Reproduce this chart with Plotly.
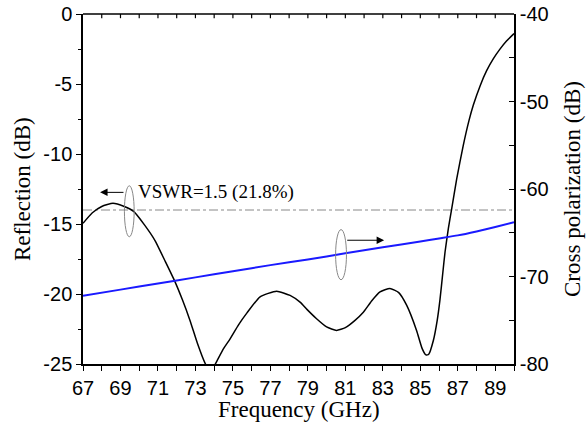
import plotly.graph_objects as go

# Reflection (left axis, dB)
freq_refl = [67.0, 67.5, 68.0, 68.6, 69.2, 69.7, 70.3, 70.85, 71.4, 71.9, 72.3, 72.7,
             73.1, 73.5, 73.8, 74.1, 74.5, 74.85, 75.3, 75.75, 76.45, 77.33, 78.05,
             78.6, 78.95, 79.45, 80.0, 80.53, 81.0, 81.5, 81.96, 82.4, 82.85, 83.38,
             83.85, 84.27, 84.8, 85.1, 85.3, 85.45, 85.7, 85.9, 86.05, 86.2, 86.32,
             86.5, 86.67, 86.94, 87.29, 87.6, 87.83, 88.2, 88.54, 88.9, 89.25, 89.6, 90.0]
reflection = [-14.95, -14.2, -13.75, -13.52, -13.75, -14.1, -15.1, -16.2, -17.7, -19.1,
              -20.4, -21.85, -23.5, -24.9, -25.6, -24.9, -23.9, -23.2, -22.2, -21.35,
              -20.2, -19.8, -20.1, -20.6, -21.1, -21.75, -22.35, -22.6, -22.4, -21.9,
              -21.3, -20.5, -19.85, -19.6, -19.9, -20.8, -22.6, -23.9, -24.35, -24.3,
              -23.3, -21.9, -20.4, -18.5, -17.0, -15.3, -13.95, -11.8, -9.4, -7.6,
              -6.5, -5.1, -4.05, -3.19, -2.51, -1.93, -1.4]

# Cross polarization (right axis, dB)
freq_xpol = [67, 69, 71, 73, 75, 77, 79, 81, 83, 85, 86, 87, 88, 89, 90]
cross_pol = [-72.2, -71.5, -70.8, -70.1, -69.4, -68.7, -68.05, -67.35, -66.65, -66.0,
             -65.65, -65.3, -64.85, -64.35, -63.8]

vswr_level = -14.0

x_ticks = list(range(67, 90, 2))
x_ticktext = [str(v) for v in x_ticks]
y1_ticks = [0, -5, -10, -15, -20, -25]
y1_ticktext = ["0", "-5", "-10", "-15", "-20", "-25"]
y2_ticks = [-40, -50, -60, -70, -80]
y2_ticktext = ["-40", "-50", "-60", "-70", "-80"]

tick_font = dict(family="Liberation Sans, Arial, sans-serif", size=20, color="black")
title_font = dict(family="Liberation Serif, Times New Roman, serif", size=23, color="black")

fig = go.Figure()
fig.add_trace(go.Scatter(x=[67, 90], y=[vswr_level, vswr_level], mode="lines",
                         line=dict(color="#888888", width=1, dash="dashdot"),
                         showlegend=False, hoverinfo="skip"))
fig.add_trace(go.Scatter(x=freq_refl, y=reflection, mode="lines",
                         line=dict(color="black", width=1.5, shape="spline", smoothing=0.5),
                         showlegend=False))
fig.add_trace(go.Scatter(x=freq_xpol, y=cross_pol, mode="lines", yaxis="y2",
                         line=dict(color="#1a1aff", width=2, shape="spline", smoothing=0.6),
                         showlegend=False))

fig.update_layout(
    width=586, height=423,
    margin=dict(l=83, r=72, t=14, b=59),
    plot_bgcolor="white", paper_bgcolor="white",
    xaxis=dict(range=[67, 90], tickmode="array", tickvals=x_ticks, ticktext=x_ticktext,
               ticks="outside", ticklen=5, tickwidth=1.3, tickcolor="black",
               minor=dict(tickmode="array", tickvals=list(range(67, 91)), ticks="outside",
                          ticklen=5, tickwidth=1.3, tickcolor="black"),
               showline=True, linecolor="black", linewidth=1.5,
               showgrid=False, zeroline=False, tickfont=tick_font, automargin=False,
               ticklabeloverflow="allow"),
    yaxis=dict(range=[-25, 0], tickmode="array", tickvals=y1_ticks, ticktext=y1_ticktext,
               ticks="outside", ticklen=5, tickwidth=1.3, tickcolor="black",
               minor=dict(tickmode="array", tickvals=[-2.5, -7.5, -12.5, -17.5, -22.5],
                          ticks="outside", ticklen=3, tickwidth=1.3, tickcolor="black"),
               showline=True, linecolor="black", linewidth=1.5, showgrid=False,
               zeroline=False, tickfont=tick_font, automargin=False,
               ticklabeloverflow="allow"),
    yaxis2=dict(range=[-80, -40], overlaying="y", side="right", anchor="x",
                tickmode="array", tickvals=y2_ticks, ticktext=y2_ticktext,
                ticks="inside", ticklen=5, tickwidth=1.3, tickcolor="black",
                minor=dict(tickmode="array", tickvals=[-45, -55, -65, -75],
                           ticks="inside", ticklen=5, tickwidth=1.3, tickcolor="black"),
                showline=True, linecolor="black", linewidth=1.5, showgrid=False,
                zeroline=False, tickfont=tick_font, automargin=False,
                ticklabeloverflow="allow"),
)

# top frame line with inward ticks (every 1 GHz)
fig.add_shape(type="line", xref="paper", yref="paper", x0=0, x1=1, y0=1, y1=1,
              line=dict(color="black", width=1.5))
for f in range(68, 90):
    fig.add_shape(type="line", xref="x", yref="paper", x0=f, x1=f, y0=1, y1=0.988,
                  line=dict(color="black", width=1.2))

# axis titles
fig.add_annotation(text="Frequency (GHz)", xref="paper", yref="paper", x=0.5, y=0,
                   xanchor="center", yanchor="middle", yshift=-45, showarrow=False,
                   font=title_font)
fig.add_annotation(text="Reflection (dB)", xref="paper", yref="paper", x=0, y=0.5,
                   xanchor="center", yanchor="middle", xshift=-61, textangle=-90,
                   showarrow=False, font=title_font)
fig.add_annotation(text="Cross polarization (dB)", xref="paper", yref="paper", x=1, y=0.5,
                   xanchor="center", yanchor="middle", xshift=58, textangle=-90,
                   showarrow=False, font=title_font)

# ellipses
fig.add_shape(type="circle", xref="x", yref="y", x0=69.21, x1=69.73, y0=-15.91, y1=-12.27,
              line=dict(color="#888888", width=1))
fig.add_shape(type="circle", xref="x", yref="y", x0=80.48, x1=81.06, y0=-18.98, y1=-15.4,
              line=dict(color="#888888", width=1))

# arrows
fig.add_annotation(x=67.91, y=-12.74, ax=69.24, ay=-12.74, xref="x", yref="y",
                   axref="x", ayref="y", text="", showarrow=True, arrowhead=2,
                   arrowsize=1.5, arrowwidth=1, arrowcolor="black")
fig.add_annotation(x=83.07, y=-16.16, ax=81.02, ay=-16.16, xref="x", yref="y",
                   axref="x", ayref="y", text="", showarrow=True, arrowhead=2,
                   arrowsize=1.5, arrowwidth=1, arrowcolor="black")

fig.add_annotation(x=69.83, y=-12.7, xref="x", yref="y", text="VSWR=1.5 (21.8%)",
                   showarrow=False, xanchor="left", yanchor="middle",
                   font=dict(family="Liberation Serif, Times New Roman, serif", size=19,
                             color="black"))

fig.write_html("out.html", config={"displayModeBar": False},
               post_script="document.body.style.margin='0px';"
                           "document.body.style.overflow='hidden';")
